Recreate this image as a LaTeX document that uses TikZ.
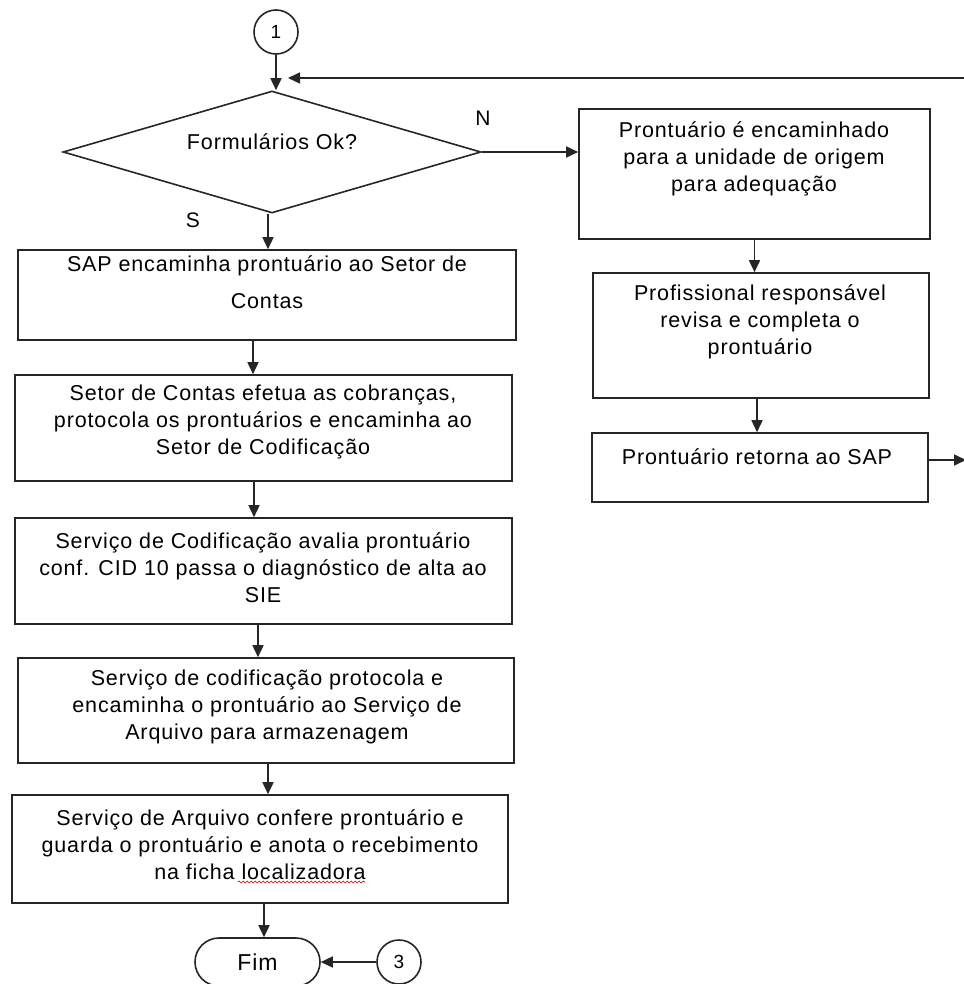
\documentclass[tikz,border=0pt]{standalone}
\usepackage{fontspec}
\setmainfont{Liberation Sans}[LetterSpace=4]
\usetikzlibrary{shapes.geometric,shapes.misc,arrows.meta,decorations.pathmorphing}
\begin{document}
\begin{tikzpicture}[x=1pt,y=-1pt,
  box/.style={draw=black!85, rectangle, inner sep=0pt, line width=1.6pt},
  txt/.style={align=center, inner sep=0pt, text=black, font=\fontsize{21.5}{27}\selectfont},
  arr/.style={draw=black!85, line width=1.6pt, -{Triangle[length=12pt,width=11pt]}},
  conn/.style={circle, draw=black!85, line width=1.6pt, minimum size=44pt, inner sep=0pt, text=black, font=\fontsize{19}{21}\selectfont},
  lbl/.style={inner sep=0pt, text=black, font=\fontsize{21}{24}\selectfont}]
\useasboundingbox[fill=white] (0,0) rectangle (963,984);

% connector 1 and decision
\node[conn] (c1) at (276,32) {1};
\node[diamond, draw=black!85, line width=1.6pt, minimum width=418pt, minimum height=122pt, aspect=3.4, inner sep=0pt] (dia) at (272,152) {};
\node[txt] (tdia) at (272,142) {Formulários Ok?};
\node[lbl] (lN) at (483,118) {N};
\node[lbl] (lS) at (193,220) {S};

% right column
\node[box, minimum width=351pt, minimum height=130pt] (b1) at (754.5,174) {};
\node[txt] (t1) at (754,159) {Prontuário é encaminhado\\para a unidade de origem\\para adequação};
\node[box, minimum width=336pt, minimum height=125pt] (b2) at (761,335.5) {};
\node[txt] (t2) at (760,322) {Profissional responsável\\revisa e completa o\\prontuário};
\node[box, minimum width=336pt, minimum height=69pt] (b3) at (760,467.5) {};
\node[txt] (t3) at (757,457) {Prontuário retorna ao SAP};

% left column
\node[box, minimum width=498pt, minimum height=90pt] (bA) at (267,295) {};
\node[txt] (tA) at (267,282) {SAP encaminha prontuário ao Setor de\\[10pt]Contas};
\node[box, minimum width=497pt, minimum height=106pt] (bB) at (263.5,428) {};
\node[txt] (tB) at (263,422) {Setor de Contas efetua as cobranças,\\protocola os prontuários e encaminha ao\\Setor de Codificação};
\node[box, minimum width=497pt, minimum height=106pt] (bC) at (263.5,571) {};
\node[txt] (tC) at (263,568) {Serviço de Codificação avalia prontuário\\conf. CID 10 passa o diagnóstico de alta ao\\SIE};
\node[box, minimum width=496pt, minimum height=105pt] (bD) at (266,710.5) {};
\node[txt] (tD) at (267,707) {Serviço de codificação protocola e\\encaminha o prontuário ao Serviço de\\Arquivo para armazenagem};
\node[box, minimum width=496pt, minimum height=108pt] (bE) at (260,849) {};
\node[txt] (tE) at (260,845) {Serviço de Arquivo confere prontuário e\\guarda o prontuário e anota o recebimento\\na ficha localizadora};
\draw[red!75!black, line width=0.6pt, decorate, decoration={snake, amplitude=1pt, segment length=4pt}] (238,882) -- (365,882);

% end
\node[rounded rectangle, draw=black!85, line width=1.6pt, minimum width=125pt, minimum height=48pt, inner sep=0pt, text=black, font=\fontsize{23}{25}\selectfont] (fim) at (257.5,962) {Fim};
\node[conn] (c3) at (399,962) {3};

% free ends of the loop back to the decision
\coordinate (fbR) at (966,78);
\coordinate (fbL) at (288,78);
\coordinate (outR) at (966,460);

% connectors
\draw[arr] (c1) -- (c1 |- dia.north);
\draw[arr] (fbR) -- (fbL);
\draw[arr] (dia.east) -- (b1.west |- dia.east);
\draw[arr] ([xshift=-4pt]dia.south) -- ([xshift=-4pt]dia.south |- bA.north);
\draw[arr] (b1.south) -- (b1.south |- b2.north);
\draw[arr] ([xshift=-4pt]b2.south) -- ([xshift=-4pt]b2.south |- b3.north);
\draw[arr] ([yshift=7.5pt]b3.east) -- (outR);
\draw[arr] ([xshift=-14pt]bA.south) -- ([xshift=-14pt]bA.south |- bB.north);
\draw[arr] ([xshift=-9.5pt]bB.south) -- ([xshift=-9.5pt]bB.south |- bC.north);
\draw[arr] ([xshift=-5.5pt]bC.south) -- ([xshift=-5.5pt]bC.south |- bD.north);
\draw[arr] ([xshift=2pt]bD.south) -- ([xshift=2pt]bD.south |- bE.north);
\draw[arr] ([xshift=4pt]bE.south) -- ([xshift=4pt]bE.south |- fim.north);
\draw[arr] (c3) -- (fim);
\end{tikzpicture}
\end{document}
